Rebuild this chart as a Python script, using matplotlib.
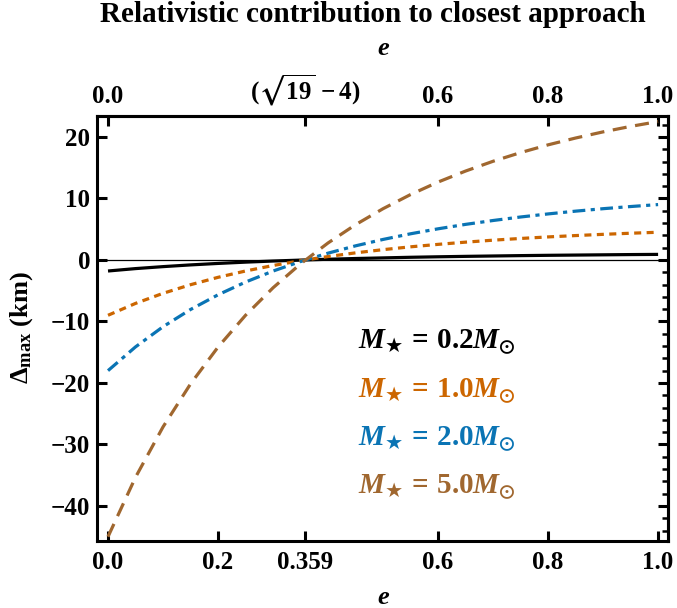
import matplotlib
matplotlib.use('Agg')
from matplotlib import pyplot as plt
from matplotlib.ticker import FixedLocator, MultipleLocator
import numpy as np

plt.rcParams.update({'font.family': 'Liberation Serif', 'font.weight': 'bold', 'font.size': 15})
plt.rcParams['mathtext.fontset'] = 'custom'
plt.rcParams['mathtext.rm'] = 'Liberation Serif:bold'
plt.rcParams['mathtext.bf'] = 'Liberation Serif:bold'
plt.rcParams['mathtext.it'] = 'Liberation Serif:italic:bold'
plt.rcParams['mathtext.sf'] = 'DejaVu Sans'
plt.rcParams['mathtext.fallback'] = 'stix'
plt.rcParams['axes.unicode_minus'] = True

# eccentricity samples
e = [0.00, 0.05, 0.10, 0.15, 0.20, 0.25, 0.30, 0.35, 0.40, 0.45, 0.50,
     0.55, 0.60, 0.65, 0.70, 0.75, 0.80, 0.85, 0.90, 0.95, 1.00]

# Delta_max (km) for each stellar mass
d_02 = [-1.80, -1.41, -1.09, -0.81, -0.57, -0.36, -0.18, -0.03, 0.11, 0.23, 0.33,
        0.43, 0.51, 0.58, 0.64, 0.70, 0.75, 0.79, 0.83, 0.87, 0.90]
d_10 = [-9.00, -7.07, -5.43, -4.03, -2.83, -1.80, -0.91, -0.13, 0.55, 1.15, 1.67,
        2.13, 2.53, 2.89, 3.21, 3.49, 3.74, 3.96, 4.16, 4.34, 4.50]
d_20 = [-18.00, -14.14, -10.86, -8.06, -5.67, -3.60, -1.81, -0.26, 1.10, 2.29, 3.33,
        4.25, 5.06, 5.78, 6.41, 6.98, 7.48, 7.93, 8.33, 8.68, 9.00]
d_50 = [-45.00, -35.34, -27.15, -20.16, -14.17, -9.00, -4.53, -0.64, 2.76, 5.73, 8.33,
        10.63, 12.66, 14.45, 16.04, 17.45, 18.71, 19.82, 20.82, 21.71, 22.50]

labels = [r'$M_{\mathsf{★}}\,=\,0.2M_{\odot}$', r'$M_{\mathsf{★}}\,=\,1.0M_{\odot}$',
          r'$M_{\mathsf{★}}\,=\,2.0M_{\odot}$', r'$M_{\mathsf{★}}\,=\,5.0M_{\odot}$']

bottom_ticks = [0.0, 0.2, 0.359, 0.6, 0.8, 1.0]
bottom_labels = ['0.0', '0.2', '0.359', '0.6', '0.8', '1.0']
top_ticks = [0.0, 0.359, 0.6, 0.8, 1.0]
top_labels = ['0.0', r'$(\sqrt{19}\,-4)$', '0.6', '0.8', '1.0']
y_ticks = [-40, -30, -20, -10, 0, 10, 20]

c_black, c_orange, c_blue, c_brown = 'black', '#CC6600', '#0A74B4', '#A0672F'

fig = plt.figure(figsize=(6.77, 6.08), dpi=100)
ax = fig.add_axes([0.1433, 0.1102, 0.8434, 0.699])

ax.axhline(0, color='black', lw=0.9, zorder=1)
ax.plot(e, d_02, color=c_black, lw=2.3, solid_capstyle='butt')
ax.plot(e, d_10, color=c_orange, lw=2.3, ls=(0, (2.2, 1.7)))
ax.plot(e, d_20, color=c_blue, lw=2.3, ls=(0, (4.0, 1.7, 1.3, 1.7)))
ax.plot(e, d_50, color=c_brown, lw=2.3, ls=(0, (4.4, 2.7)))

ax.set_xlim(-0.02, 1.018)
ax.set_ylim(-45.7, 23.4)

for s in ax.spines.values():
    s.set_linewidth(2.2)

ax.set_xticks(bottom_ticks)
ax.set_xticklabels(bottom_labels)
ax.set_yticks(y_ticks)
ax.tick_params(direction='in', length=7, width=2.2, top=False, right=False, labelsize=18)
ax.tick_params(axis='x', pad=7)
ax.tick_params(axis='y', pad=5)

top = ax.secondary_xaxis('top')
top.set_xticks(top_ticks)
top.set_xticklabels(top_labels)
top.tick_params(direction='in', length=7, width=2.2, labelsize=18, pad=6)

right = ax.secondary_yaxis('right')
right.yaxis.set_major_locator(FixedLocator(y_ticks))
right.yaxis.set_minor_locator(MultipleLocator(2))
right.tick_params(which='major', direction='in', length=7, width=2.2, labelright=False)
right.tick_params(which='minor', direction='in', length=4, width=1.8)
right.spines['right'].set_linewidth(2.2)
top.spines['top'].set_linewidth(2.2)

# axis labels
fig.text(0.566, 0.018, r'$e$', ha='center', va='center', fontsize=19)
fig.text(0.566, 0.921, r'$e$', ha='center', va='center', fontsize=19)
fig.text(0.032, 0.4605, r'$\Delta_{\rm max}$ (km)', ha='center', va='center', rotation=90, fontsize=19)

colors = [c_black, c_orange, c_blue, c_brown]
ypos = [0.468, 0.355, 0.242, 0.127]
for lab, col, yy in zip(labels, colors, ypos):
    ax.text(0.457, yy, lab, color=col, fontsize=21, transform=ax.transAxes, va='center', ha='left')

fig.text(0.551, 0.976, 'Relativistic contribution to closest approach', ha='center', va='center',
         fontsize=21, fontweight='bold')

plt.savefig('out.png', dpi=100)
